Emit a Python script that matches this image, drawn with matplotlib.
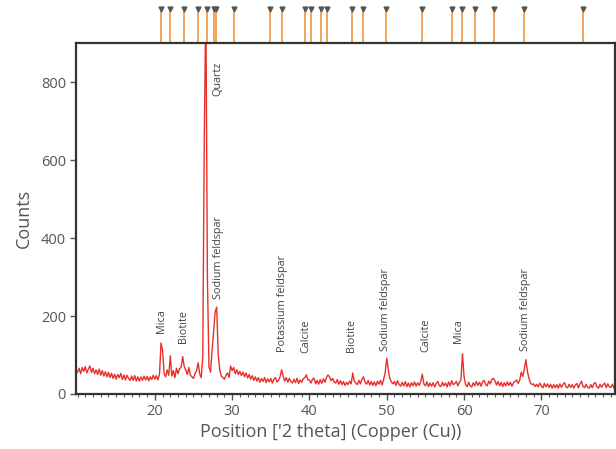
import numpy as np
import matplotlib
matplotlib.use('Agg')
import matplotlib.pyplot as plt
import matplotlib.transforms as mtransforms

plt.rcParams['font.family'] = ['Open Sans', 'DejaVu Sans']

# ---------------- data (0.2 deg steps from 10 deg) ----------------
START_2THETA = 10.0
STEP_2THETA = 0.2
counts_rows = [
    [56, 66, 52, 68, 58],   # 10
    [70, 54, 64, 72, 55],   # 11
    [66, 52, 62, 50, 64],   # 12
    [48, 60, 46, 57, 44],   # 13
    [56, 42, 53, 40, 51],   # 14
    [38, 50, 42, 53, 37],   # 15
    [49, 36, 48, 40, 35],   # 16
    [46, 35, 47, 33, 44],   # 17
    [33, 44, 35, 46, 36],   # 18
    [45, 34, 44, 37, 48],   # 19
    [38, 47, 36, 50, 131],  # 20
    [112, 52, 44, 62, 48],  # 21
    [98, 46, 60, 42, 66],   # 22
    [52, 65, 68, 96, 70],   # 23
    [62, 50, 68, 48, 44],   # 24
    [40, 53, 60, 80, 52],   # 25
    [42, 95, 670, 1000, 300],  # 26
    [70, 56, 110, 160, 210],   # 27
    [223, 100, 62, 46, 42],    # 28
    [38, 48, 54, 42, 72],   # 29
    [60, 68, 52, 62, 50],   # 30
    [58, 47, 56, 44, 54],   # 31
    [41, 50, 38, 47, 35],   # 32
    [44, 33, 42, 30, 40],   # 33
    [32, 42, 29, 39, 31],   # 34
    [40, 28, 38, 42, 31],   # 35
    [35, 44, 62, 46, 33],   # 36
    [42, 30, 40, 32, 28],   # 37
    [38, 29, 40, 27, 36],   # 38
    [30, 39, 42, 49, 36],   # 39
    [36, 28, 38, 41, 26],   # 40
    [35, 25, 37, 27, 39],   # 41
    [30, 42, 49, 44, 34],   # 42
    [40, 31, 28, 37, 25],   # 43
    [34, 24, 32, 22, 30],   # 44
    [24, 33, 26, 54, 33],   # 45
    [28, 24, 35, 26, 38],   # 46
    [44, 30, 25, 35, 23],   # 47
    [32, 22, 31, 21, 33],   # 48
    [25, 35, 23, 38, 55],   # 49
    [92, 62, 40, 31, 26],   # 50
    [32, 22, 34, 24, 20],   # 51
    [30, 21, 32, 19, 28],   # 52
    [18, 29, 21, 31, 20],   # 53
    [29, 22, 32, 51, 26],   # 54
    [21, 31, 19, 28, 20],   # 55
    [29, 18, 27, 32, 21],   # 56
    [19, 30, 21, 28, 18],   # 57
    [31, 21, 34, 24, 27],   # 58
    [32, 21, 30, 37, 103],  # 59
    [45, 24, 19, 30, 21],   # 60
    [18, 29, 21, 32, 22],   # 61
    [30, 20, 31, 35, 24],   # 62
    [21, 33, 26, 38, 40],   # 63
    [34, 23, 32, 21, 30],   # 64
    [19, 29, 21, 31, 22],   # 65
    [30, 20, 29, 32, 36],   # 66
    [27, 35, 56, 45, 64],   # 67
    [88, 58, 40, 28, 24],   # 68
    [26, 19, 25, 18, 28],   # 69
    [20, 16, 27, 18, 26],   # 70
    [17, 25, 15, 24, 16],   # 71
    [24, 15, 26, 17, 25],   # 72
    [29, 18, 16, 25, 17],   # 73
    [24, 15, 23, 27, 16],   # 74
    [26, 33, 19, 16, 25],   # 75
    [17, 15, 24, 16, 27],   # 76
    [29, 18, 15, 25, 17],   # 77
    [24, 28, 16, 26, 18],   # 78
    [17, 25, 15, 22],       # 79
]

# reference pattern stick positions (top strip)
stick_positions = [20.86, 22.02, 23.74, 25.58, 26.70, 27.64, 27.86, 30.18, 34.91,
                   36.49, 39.46, 40.19, 41.56, 42.33, 45.55, 46.97, 49.90, 54.58,
                   58.44, 59.69, 61.46, 63.85, 67.77, 75.37]

# phase labels: name, 2theta, counts at text bottom
label_names = ['Mica', 'Biotite', 'Quartz', 'Sodium feldspar', 'Potassium feldspar',
               'Calcite', 'Biotite', 'Sodium feldspar', 'Calcite', 'Mica',
               'Sodium feldspar']
label_x = [20.9, 23.7, 28.2, 28.2, 36.5, 39.5, 45.4, 49.8, 55.1, 59.3, 68.0]
label_y = [156, 131, 765, 244, 108, 105, 108, 110, 108, 130, 110]

xticks = [20, 30, 40, 50, 60, 70]
yticks = [0, 200, 400, 600, 800]

# ---------------- figure ----------------
counts = np.concatenate([np.array(r, dtype=float) for r in counts_rows])
two_theta = START_2THETA + STEP_2THETA * np.arange(len(counts))

fig = plt.figure(figsize=(6.16, 4.49), dpi=100)
ax = fig.add_axes([0.124, 0.1225, 0.874, 0.7815])

ax.plot(two_theta, counts, color='#e8302a', linewidth=1.0)

ax.set_xlim(9.85, 79.5)
ax.set_ylim(0, 900)
ax.set_xticks(xticks)
ax.set_xticks(np.arange(10, 80, 1), minor=True)
ax.set_yticks(yticks)

for s in ax.spines.values():
    s.set_color('#333333')
    s.set_linewidth(1.6)

ax.tick_params(axis='both', which='major', direction='out', length=4, width=1,
               color='#555555', labelcolor='#555555', labelsize=10.5)
ax.tick_params(axis='x', which='minor', direction='out', length=2.5, width=0.8,
               color='#555555')

ax.set_xlabel("Position ['2 theta] (Copper (Cu))", fontsize=13, color='#555555')
ax.xaxis.set_label_coords(0.472, -0.082)
ax.set_ylabel('Counts', fontsize=13, color='#555555', labelpad=6)

# phase labels
for name, x, y in zip(label_names, label_x, label_y):
    ax.text(x, y, name, rotation=90, ha='center', va='bottom', fontsize=7.8,
            color='#444444')

# stick pattern above the axes
trans = mtransforms.blended_transform_factory(ax.transData, ax.transAxes)
ax.vlines(stick_positions, 1.0, 1.095, transform=trans, color='#f2a55a',
          linewidth=1.4, clip_on=False)
ax.plot(stick_positions, [1.098] * len(stick_positions), transform=trans,
        linestyle='none', marker='v', markersize=3.5, color='#555555',
        clip_on=False)

fig.savefig('out.png', dpi=100)
